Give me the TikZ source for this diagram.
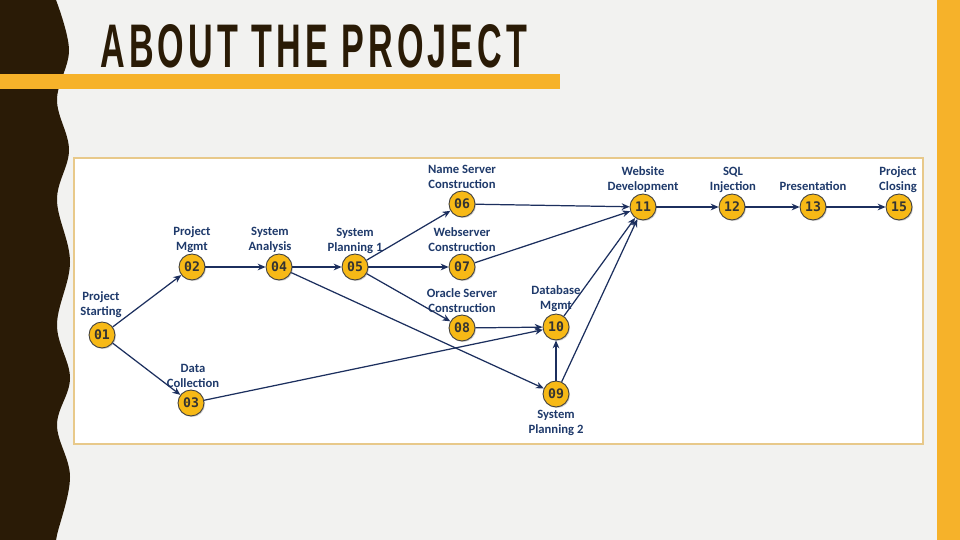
\documentclass[tikz,border=0pt]{standalone}
\usepackage{fontspec}
\usepackage{graphicx}
\setmainfont{Carlito}
\newfontfamily\titlefont[LetterSpace=12]{Liberation Sans Bold}
\newfontfamily\numfont{DejaVu Sans Mono}
\usetikzlibrary{arrows.meta,shadows}

\definecolor{pagebg}{HTML}{F2F2F0}
\definecolor{stripbrown}{HTML}{2A1B06}
\definecolor{accentorange}{HTML}{F6B22A}
\definecolor{boxedge}{HTML}{E8C98A}
\definecolor{dotyellow}{HTML}{F7B916}
\definecolor{navytext}{HTML}{1F3A6B}
\definecolor{navyline}{HTML}{1C2F5E}

\begin{document}
\begin{tikzpicture}[
    x=0.02cm, y=-0.02cm,
    >={Stealth[length=4.5pt, width=3.8pt]},
    event/.style={circle, fill=dotyellow, draw=black!75, line width=0.5pt,
        minimum size=0.52cm, inner sep=0pt, text=black!80,
        font=\numfont\bfseries\fontsize{7.5}{8}\selectfont,
        drop shadow={shadow xshift=0.6pt, shadow yshift=-0.6pt, opacity=0.35}},
    lbl/.style={align=center, text=navytext, inner sep=0pt,
        font=\bfseries\fontsize{7.2}{8.6}\selectfont},
    link/.style={->, draw=navyline, line width=0.7pt}
]
\useasboundingbox (0,0) rectangle (960,540);

% ==================== BACKGROUND ====================
\fill[pagebg] (0,0) rectangle (960,540);
\fill[stripbrown] (0,0)
    -- plot[smooth, tension=0.6] coordinates {(56,0) (69,50) (57,100) (69,150) (57,200)
        (70,262) (57,325) (70,378) (57,425) (70,477) (57,535) (57,540)}
    -- (0,540) -- cycle;
\fill[accentorange] (937,0) rectangle (960,540);
\fill[accentorange] (0,74) rectangle (560,89);

% Title
\node[anchor=south west, inner sep=0pt, text=stripbrown] (title) at (100,68)
    {\resizebox{8.54cm}{0.86cm}{\titlefont ABOUT THE PROJECT}};

% ==================== NETWORK ====================
\draw[boxedge, fill=white, line width=0.6pt] (74,158) rectangle (923,444);

% Events
\node[event] (n01) at (102,335) {01};
\node[event] (n02) at (192,267) {02};
\node[event] (n03) at (191,403) {03};
\node[event] (n04) at (279,267) {04};
\node[event] (n05) at (355,267) {05};
\node[event] (n06) at (462,204) {06};
\node[event] (n07) at (462,267) {07};
\node[event] (n08) at (462,328) {08};
\node[event] (n09) at (556,394) {09};
\node[event] (n10) at (556,327) {10};
\node[event] (n11) at (643,207) {11};
\node[event] (n12) at (732,207) {12};
\node[event] (n13) at (813,207) {13};
\node[event] (n15) at (899,207) {15};

% Labels
\node[lbl] (l01) at (101,305) {Project\\Starting};
\node[lbl] (l02) at (192,240) {Project\\Mgmt};
\node[lbl] (l03) at (193,376) {Data\\Collection};
\node[lbl] (l04) at (270,240) {System\\Analysis};
\node[lbl] (l05) at (355,241) {System\\Planning 1};
\node[lbl] (l06) at (462,177) {Name Server\\Construction};
\node[lbl] (l07) at (462,240) {Webserver\\Construction};
\node[lbl] (l08) at (462,301) {Oracle Server\\Construction};
\node[lbl] (l09) at (556,423) {System\\Planning 2};
\node[lbl] (l10) at (556,299) {Database\\Mgmt};
\node[lbl] (l11) at (643,180) {Website\\Development};
\node[lbl] (l12) at (733,180) {SQL\\Injection};
\node[lbl] (l13) at (813,186) {Presentation};
\node[lbl] (l15) at (898,180) {Project\\Closing};

% Activities
\foreach \a/\b in {01/02, 01/03, 02/04, 04/05, 04/09, 05/06, 05/07, 05/08,
        06/11, 07/11, 08/10, 03/10, 09/10, 10/11, 09/11, 11/12, 12/13, 13/15}
    \draw[link] (n\a) -- (n\b);

\end{tikzpicture}
\end{document}
